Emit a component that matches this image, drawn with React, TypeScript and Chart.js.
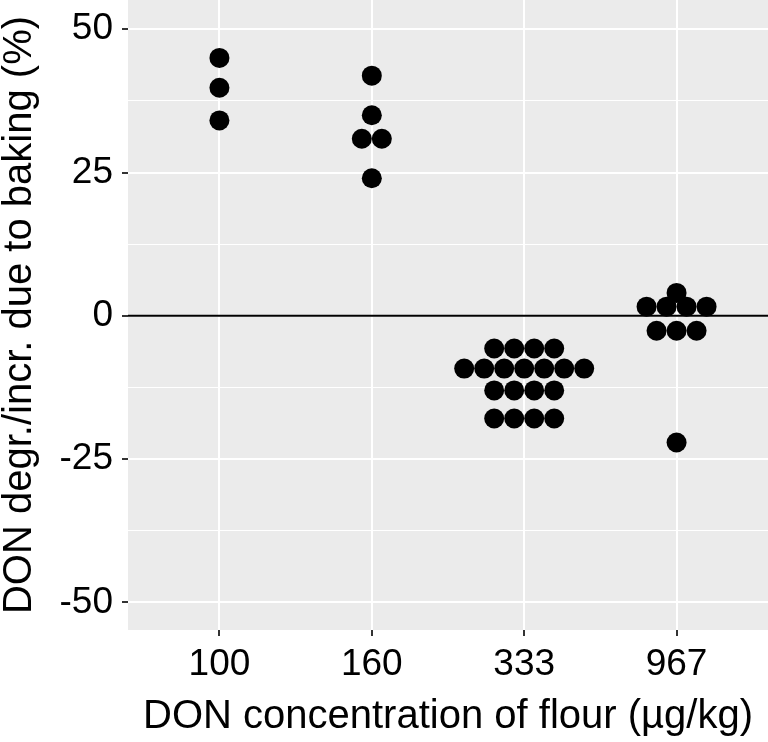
import React, { useEffect, useRef } from "react";
import { Chart, registerables } from "chart.js";

Chart.register(...registerables);

// ---- data ----
const categories = ["100", "160", "333", "967"];
const values100 = [45.0, 39.8, 34.1];
const values160 = [41.9, 35.0, 30.9, 30.9, 24.0];
const values333 = [
  -5.7, -5.7, -5.7, -5.7,
  -9.2, -9.2, -9.2, -9.2, -9.2, -9.2, -9.2,
  -13.0, -13.0, -13.0, -13.0,
  -17.9, -17.9, -17.9, -17.9,
];
const values967 = [4.0, 1.6, 1.6, 1.6, 1.6, -2.6, -2.6, -2.6, -22.1];
const groups = [values100, values160, values333, values967];
const yMajorTicks = [-50, -25, 0, 25, 50];
const REF_LINE = 0;

// ---- style / geometry ----
const W = 768;
const H = 742;
const Y_MIN = -54.8;
const Y_MAX = 55.1;
const X_EXPAND = 0.6;
const DOT_RADIUS = 10;
const FONT = "'Liberation Sans', Arial, sans-serif";
const PANEL_BG = "#EBEBEB";

function yMinorTicks(): number[] {
  const out: number[] = [];
  for (let i = 0; i < yMajorTicks.length - 1; i++) {
    out.push((yMajorTicks[i] + yMajorTicks[i + 1]) / 2);
  }
  return out;
}

// centred dot-plot stacking: dots sharing a value are laid side by side
function stackGroup(vals: number[], catIndex: number, dotWidthUnits: number) {
  const counts = new Map<number, number>();
  vals.forEach((v) => counts.set(v, (counts.get(v) || 0) + 1));
  const seen = new Map<number, number>();
  return vals.map((v) => {
    const n = counts.get(v) || 1;
    const i = seen.get(v) || 0;
    seen.set(v, i + 1);
    return { x: catIndex + (i - (n - 1) / 2) * dotWidthUnits, y: v };
  });
}

const panelBg = {
  id: "panelBg",
  beforeDraw(chart: any) {
    const { ctx, chartArea } = chart;
    ctx.save();
    ctx.fillStyle = PANEL_BG;
    ctx.fillRect(chartArea.left, chartArea.top, chartArea.right - chartArea.left, chartArea.bottom - chartArea.top);
    ctx.restore();
  },
};

const refLine = {
  id: "refLine",
  beforeDatasetsDraw(chart: any) {
    const { ctx, chartArea, scales } = chart;
    const y = scales.y.getPixelForValue(REF_LINE);
    ctx.save();
    ctx.strokeStyle = "#000";
    ctx.lineWidth = 2;
    ctx.beginPath();
    ctx.moveTo(chartArea.left, y);
    ctx.lineTo(chartArea.right, y);
    ctx.stroke();
    ctx.restore();
  },
};

export default function App() {
  const ref = useRef<HTMLCanvasElement | null>(null);

  useEffect(() => {
    if (!ref.current) return;
    const isMajor = (v: number) => yMajorTicks.includes(v);
    const chart = new Chart(ref.current, {
      type: "scatter",
      data: {
        datasets: groups.map((vals, gi) => ({
          label: categories[gi],
          data: vals.map((v) => ({ x: gi, y: v })),
          backgroundColor: "#000",
          borderWidth: 0,
          pointRadius: DOT_RADIUS,
          pointHoverRadius: DOT_RADIUS,
        })),
      },
      plugins: [panelBg, refLine],
      options: {
        animation: false,
        responsive: false,
        events: [],
        layout: { padding: 0, autoPadding: false },
        plugins: { legend: { display: false }, tooltip: { enabled: false } },
        scales: {
          x: {
            type: "linear",
            min: -X_EXPAND,
            max: categories.length - 1 + X_EXPAND,
            afterBuildTicks: (scale: any) => {
              scale.ticks = categories.map((_, i) => ({ value: i }));
            },
            afterFit: (scale: any) => {
              scale.height = 112;
              scale.paddingLeft = 0;
              scale.paddingRight = 0;
            },
            border: { display: false },
            grid: {
              color: "#FFFFFF",
              lineWidth: 2,
              tickColor: "#333333",
              tickLength: 6,
              tickWidth: 2,
            },
            ticks: {
              autoSkip: false,
              maxRotation: 0,
              padding: 7,
              color: "#000",
              font: { family: FONT, size: 37 },
              callback: (v: any) => categories[v as number] ?? "",
            },
            title: {
              display: true,
              text: "DON concentration of flour (µg/kg)",
              color: "#000",
              font: { family: FONT, size: 40, lineHeight: 1 },
              padding: { top: 0, bottom: 5 },
            },
          },
          y: {
            type: "linear",
            min: Y_MIN,
            max: Y_MAX,
            afterBuildTicks: (scale: any) => {
              scale.ticks = [...yMajorTicks, ...yMinorTicks()]
                .sort((a, b) => a - b)
                .map((v) => ({ value: v }));
            },
            afterFit: (scale: any) => {
              scale.width = 128;
              scale.paddingTop = 0;
              scale.paddingBottom = 0;
            },
            border: { display: false },
            grid: {
              color: "#FFFFFF",
              lineWidth: (c: any) => (isMajor(c.tick?.value) ? 2 : 1),
              tickColor: (c: any) => (isMajor(c.tick?.value) ? "#333333" : "rgba(0,0,0,0)"),
              tickLength: 6,
              tickWidth: 2,
            },
            ticks: {
              autoSkip: false,
              padding: 9,
              color: "#000",
              font: { family: FONT, size: 37 },
              callback: (v: any) => (isMajor(v as number) ? String(v) : ""),
            },
            title: {
              display: true,
              text: "DON degr./incr. due to baking (%)",
              color: "#000",
              font: { family: FONT, size: 40, lineHeight: 1 },
              padding: { top: 0, bottom: 0 },
            },
          },
        },
      },
    } as any);

    // lay the dots out side by side, one dot diameter apart, using the x scale
    const xs = chart.scales.x;
    const pxPerUnit = xs.getPixelForValue(1) - xs.getPixelForValue(0);
    const dotUnits = (2 * DOT_RADIUS) / pxPerUnit;
    chart.data.datasets.forEach((ds: any, gi: number) => {
      ds.data = stackGroup(groups[gi], gi, dotUnits);
    });
    chart.update();

    return () => chart.destroy();
  }, []);

  return (
    <div style={{ position: "absolute", left: 0, top: 0, width: W, height: H, background: "#fff" }}>
      <canvas ref={ref} width={W} height={H} style={{ width: W, height: H, display: "block" }} />
    </div>
  );
}
